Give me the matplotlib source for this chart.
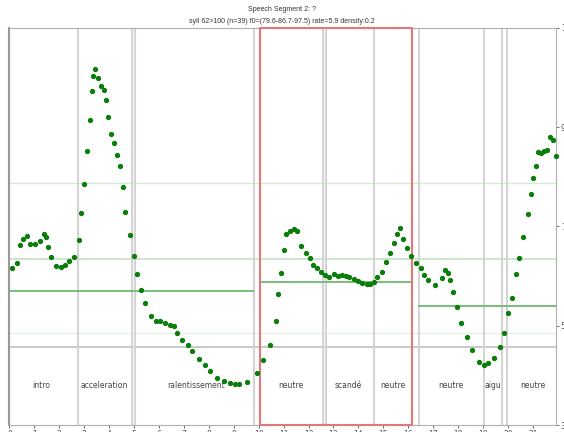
import numpy as np
import matplotlib.pyplot as plt
from matplotlib.patches import Rectangle

# points de f0 (x en secondes, y en demi-tons relatifs)
t = [0.10, 0.30, 0.42, 0.56, 0.70, 0.84, 1.01, 1.21, 1.37, 1.47, 1.55, 1.67, 1.87, 2.07, 2.23,
     2.38, 2.59, 2.77, 2.87, 2.99, 3.11, 3.22, 3.30, 3.35, 3.45, 3.54, 3.66, 3.78, 3.88, 3.97,
     4.09, 4.21, 4.31, 4.44, 4.55, 4.65, 4.84, 4.99, 5.12, 5.28, 5.42, 5.67, 5.86, 6.03, 6.23,
     6.43, 6.59, 6.73, 6.93, 7.16, 7.33, 7.61, 7.83, 8.03, 8.31, 8.60, 8.83, 9.03, 9.20, 9.55,
     9.94, 10.18, 10.45, 10.69, 10.78, 10.89, 11.00, 11.10, 11.27, 11.40, 11.52, 11.71, 11.90,
     12.04, 12.18, 12.34, 12.50, 12.66, 12.83, 13.02, 13.19, 13.33, 13.50, 13.63, 13.82, 14.00,
     14.16, 14.33, 14.48, 14.61, 14.75, 14.95, 15.12, 15.28, 15.43, 15.55, 15.66, 15.79, 15.95,
     16.11, 16.31, 16.51, 16.65, 16.78, 17.08, 17.37, 17.48, 17.59, 17.69, 17.81, 17.96, 18.12,
     18.35, 18.57, 18.84, 19.04, 19.19, 19.44, 19.69, 19.86, 20.02, 20.18, 20.34, 20.45, 20.61,
     20.81, 20.93, 21.02, 21.12, 21.20, 21.31, 21.46, 21.55, 21.67, 21.82, 21.95]
f0 = [6.16, 6.27, 6.63, 6.75, 6.80, 6.64, 6.64, 6.70, 6.85, 6.78, 6.59, 6.39, 6.21, 6.18, 6.23,
      6.30, 6.39, 6.73, 7.27, 7.86, 8.52, 9.15, 9.73, 10.04, 10.18, 10.00, 9.83, 9.75, 9.54, 9.21,
      8.86, 8.68, 8.44, 8.22, 7.80, 7.29, 6.82, 6.41, 6.04, 5.73, 5.46, 5.20, 5.10, 5.10, 5.05,
      5.02, 4.99, 4.86, 4.71, 4.61, 4.49, 4.34, 4.20, 4.08, 3.95, 3.89, 3.85, 3.83, 3.83, 3.86,
      4.05, 4.30, 4.61, 5.10, 5.64, 6.06, 6.52, 6.84, 6.90, 6.95, 6.91, 6.60, 6.47,
      6.36, 6.23, 6.16, 6.09, 6.02, 5.98, 6.04, 6.01, 6.02, 6.01, 5.99, 5.94, 5.90,
      5.87, 5.84, 5.85, 5.89, 5.98, 6.09, 6.29, 6.46, 6.67, 6.84, 6.97, 6.75, 6.56,
      6.40, 6.26, 6.16, 6.02, 5.92, 5.82, 5.97, 6.13, 6.07, 5.93, 5.68, 5.37, 5.06,
      4.77, 4.51, 4.27, 4.21, 4.24, 4.35, 4.57, 4.86, 5.25, 5.55, 6.04, 6.37, 6.78,
      7.25, 7.66, 7.97, 8.21, 8.51, 8.49, 8.52, 8.54, 8.80, 8.75, 8.42]

# segments étiquetés
seg_label = ['intro', 'acceleration', 'ralentissement', 'neutre', 'scandé', 'neutre',
             'neutre', 'aigu', 'neutre']
label_x = [1.28, 3.80, 7.47, 11.30, 13.60, 15.40, 17.70, 19.40, 21.00]
boundaries = [2.74, 4.90, 5.02, 9.81, 12.57, 12.69, 14.61, 16.44, 19.05, 19.75, 19.95]

# niveaux moyens par zone
level_start = [0.0, 10.07, 16.44]
level_end = [9.77, 16.17, 21.93]
level_val = [5.70, 5.89, 5.40]

fig = plt.figure(figsize=(5.64, 4.32), dpi=100)
ax = fig.add_axes([0.0168, 0.0162, 0.9690, 0.9190])
ax.set_xlim(0, 21.93)
ax.set_ylim(3, 11)

# lignes de référence
ax.axhline(7.87, color='#d2ebd2', lw=1, zorder=1)
ax.axhline(6.35, color='#c4e2c4', lw=1.2, zorder=1)
ax.axhline(4.86, color='#e6f2e6', lw=1, zorder=1)
ax.axhline(4.57, color='#c0c0c0', lw=1.2, zorder=1)

for b in boundaries:
    ax.axvline(b, color='#d4d4d4', lw=1.5, zorder=1)

for s, e, v in zip(level_start, level_end, level_val):
    ax.plot([s, e], [v, v], color='#6cb96c', lw=1.3, zorder=2)

for lx, lab in zip(label_x, seg_label):
    ax.text(lx, 3.79, lab, ha='center', va='center', fontsize=5.5, color='#444444')

ax.add_patch(Rectangle((10.07, 3.0), 16.17 - 10.07, 8.0, fill=False,
                       edgecolor='#e07a7a', lw=1.5, zorder=3, clip_on=False,
                       joinstyle='round'))

ax.plot(t, f0, 'o', color='#0a7d0a', ms=2.8, zorder=4, clip_on=False)

ax.set_xticks(np.arange(0, 22))
ax.set_yticks([3, 5, 7, 9, 11])
ax.yaxis.tick_right()
ax.tick_params(axis='both', labelsize=5.5, colors='#555555', length=2.5, width=0.6, pad=1)
for side in ['top', 'bottom', 'right']:
    ax.spines[side].set_color('#b0b0b0')
ax.spines['left'].set_color('#999999')
ax.spines['left'].set_linewidth(1.5)

fig.text(0.5, 0.977, 'Speech Segment 2: ?', ha='center', va='center', fontsize=5,
         family='Liberation Sans', color='#333333')
fig.text(0.5, 0.950, 'syll 62>100 (n=39) f0=(79.6-86.7-97.5) rate=5.9 density:0.2',
         ha='center', va='center', fontsize=5, family='Liberation Sans', color='#333333')

fig.savefig('out.png', dpi=100)
